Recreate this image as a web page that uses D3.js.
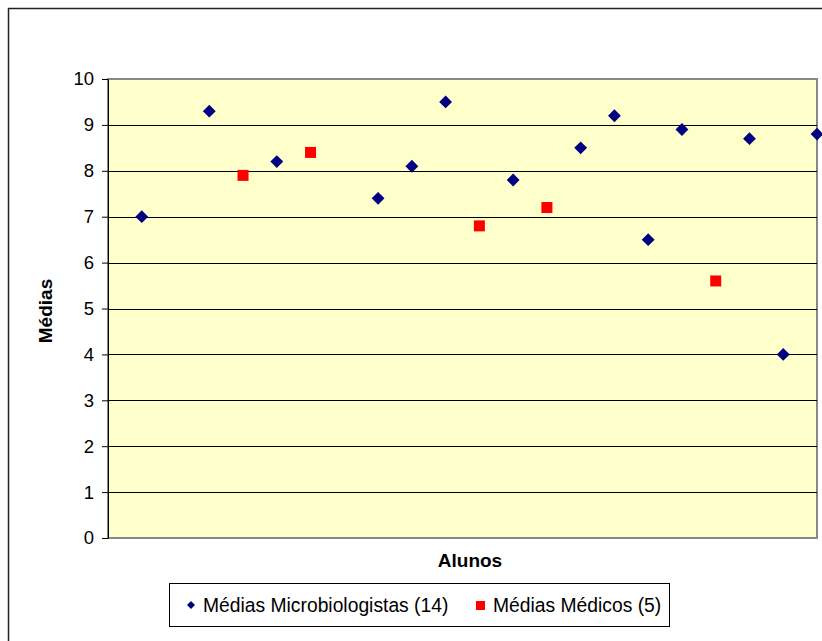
<!DOCTYPE html>
<html>
<head>
<meta charset="utf-8">
<script src="https://cdn.jsdelivr.net/npm/d3@7"></script>
<style>
  body { margin: 0; background: #fff; }
  svg { display: block; font-family: "Liberation Sans", Arial, sans-serif; }
</style>
</head>
<body>
<div id="chart"></div>
<script>
// Alunos (x index) and médias
const microX = [1, 3, 5, 8, 9, 10, 12, 14, 15, 16, 17, 19, 20, 21];
const microY = [7.0, 9.3, 8.2, 7.4, 8.1, 9.5, 7.8, 8.5, 9.2, 6.5, 8.9, 8.7, 4.0, 8.8];
const medX = [4, 6, 11, 13, 18];
const medY = [7.9, 8.4, 6.8, 7.2, 5.6];
const yTicks = [0, 1, 2, 3, 4, 5, 6, 7, 8, 9, 10];
const seriesNames = ["Médias Microbiologistas (14)", "Médias Médicos (5)"];

const W = 822, H = 641;
const margin = { top: 79, right: 5, bottom: 103, left: 108 };
const width = W - margin.left - margin.right;
const height = H - margin.top - margin.bottom;

const svg = d3.select("#chart").append("svg")
    .attr("width", W)
    .attr("height", H);

// outer chart border
svg.append("rect")
    .attr("x", 8.5).attr("y", 8.5)
    .attr("width", 840).attr("height", 660)
    .attr("fill", "#fff")
    .attr("stroke", "#222")
    .attr("stroke-width", 1.5);

const g = svg.append("g")
    .attr("transform", `translate(${margin.left},${margin.top})`);

const x = d3.scaleLinear().domain([0, 21]).range([0, width]);
const y = d3.scaleLinear().domain([0, 10]).range([height, 0]);

// plot area
g.append("rect")
    .attr("width", width).attr("height", height)
    .attr("fill", "#FFFFCC")
    .attr("stroke", "#888")
    .attr("stroke-width", 2);

// gridlines
g.selectAll(".grid")
    .data(yTicks.filter(d => d > 0 && d < 10))
    .enter().append("line")
    .attr("x1", 0).attr("x2", width)
    .attr("y1", d => Math.round(y(d)) + 0.5)
    .attr("y2", d => Math.round(y(d)) + 0.5)
    .attr("stroke", "#000");

// y axis
const yAxis = g.append("g")
    .call(d3.axisLeft(y).tickValues(yTicks).tickSize(6).tickSizeOuter(0).tickPadding(8));
yAxis.select(".domain").attr("stroke", "#000");
yAxis.selectAll("line").attr("stroke", "#000");
yAxis.selectAll("text")
    .style("font-size", "18.5px")
    .attr("fill", "#000");

// markers
const diamond = d3.symbol().type(d3.symbolDiamond2).size(105);

g.selectAll(".micro")
    .data(microX.map((d, i) => [d, microY[i]]))
    .enter().append("path")
    .attr("d", diamond)
    .attr("transform", d => `translate(${x(d[0])},${y(d[1])})`)
    .attr("fill", "#000080");

g.selectAll(".med")
    .data(medX.map((d, i) => [d, medY[i]]))
    .enter().append("rect")
    .attr("x", d => x(d[0]) - 5.5)
    .attr("y", d => y(d[1]) - 5.5)
    .attr("width", 11).attr("height", 11)
    .attr("fill", "#FF0000");

// axis titles
svg.append("text")
    .attr("x", 470).attr("y", 567)
    .attr("text-anchor", "middle")
    .style("font-size", "19px")
    .style("font-weight", "bold")
    .text("Alunos");

svg.append("text")
    .attr("transform", "translate(52,311) rotate(-90)")
    .attr("text-anchor", "middle")
    .style("font-size", "19px")
    .style("font-weight", "bold")
    .text("Médias");

// legend
const lg = svg.append("g");
lg.append("rect")
    .attr("x", 169.5).attr("y", 583.5)
    .attr("width", 500).attr("height", 43)
    .attr("fill", "#fff")
    .attr("stroke", "#000");

lg.append("path")
    .attr("d", d3.symbol().type(d3.symbolDiamond2).size(41))
    .attr("transform", "translate(191,605)")
    .attr("fill", "#000080");
lg.append("text")
    .attr("x", 203).attr("y", 612)
    .style("font-size", "19.3px")
    .text(seriesNames[0]);

lg.append("rect")
    .attr("x", 476).attr("y", 601)
    .attr("width", 9).attr("height", 9)
    .attr("fill", "#FF0000");
lg.append("text")
    .attr("x", 493).attr("y", 612)
    .style("font-size", "19.3px")
    .text(seriesNames[1]);
</script>
</body>
</html>
